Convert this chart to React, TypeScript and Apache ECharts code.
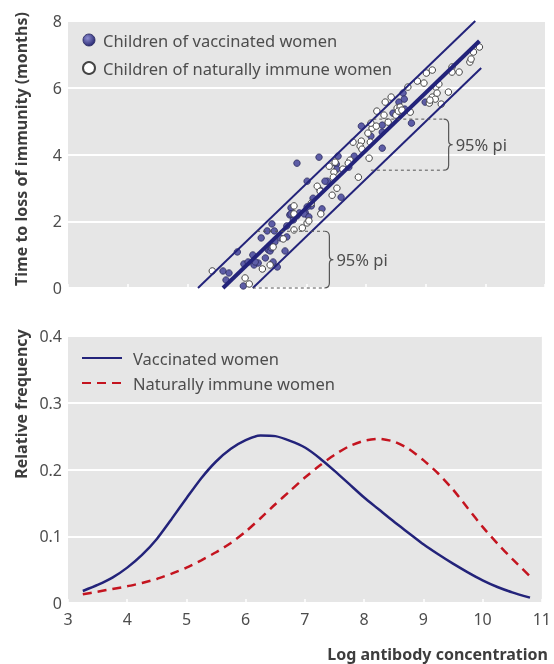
import React, { useEffect, useRef } from "react";
import * as echarts from "echarts";

const FONT = "'Noto Sans', sans-serif";
const TEXT = "#4d4d4d";
const NAVY = "#23237a";
const RED = "#c4141f";

// Top panel: children data (log antibody concentration, months to loss of immunity)
const vaccinatedChildren: [number, number][] = [
  [5.6, 0.51], [5.7, 0.45], [5.65, 0.24], [5.84, 1.08], [5.94, 0.06], [5.95, 0.72],
  [6.02, 0.78], [6.1, 0.99], [6.12, 0.69], [6.19, 0.75], [6.14, 0.78], [6.24, 1.5],
  [6.34, 1.71], [6.42, 1.92], [6.46, 1.71], [6.31, 0.9], [6.36, 1.14], [6.39, 1.11],
  [6.41, 1.2], [6.44, 0.78], [6.51, 0.63], [6.47, 1.38], [6.56, 1.5], [6.67, 1.53],
  [6.64, 1.11], [6.67, 1.86], [6.72, 2.19], [6.74, 2.4], [6.78, 2.04], [6.84, 2.16],
  [6.88, 2.25], [6.98, 2.25], [7.08, 2.46], [7.11, 2.69], [7.26, 2.37], [7.23, 2.93],
  [7.58, 2.72], [7.35, 3.2], [6.84, 3.74], [7.21, 3.92], [7.53, 3.95], [7.5, 3.71],
  [7.51, 3.56], [7.01, 3.2], [7.31, 3.2], [7.01, 2.43], [6.74, 2.22], [6.96, 2.22],
  [7.04, 2.13], [7.8, 3.95], [7.92, 4.85], [8.08, 4.55], [8.27, 4.88], [8.27, 4.67],
  [8.27, 4.19], [7.71, 3.62], [8.45, 5.24], [8.55, 5.57], [8.62, 5.84], [8.64, 5.66],
  [8.65, 5.36], [8.99, 5.57], [8.76, 4.94],
];

const naturalChildren: [number, number][] = [
  [5.42, 0.51], [5.97, 0.3], [6.04, 0.12], [6.26, 0.57], [6.39, 0.69], [6.44, 1.23],
  [6.61, 1.47], [6.79, 2.46], [6.79, 1.74], [6.93, 1.8], [7.01, 1.95], [7.04, 2.01],
  [7.24, 2.22], [7.18, 3.05], [7.43, 2.78], [7.51, 2.99], [7.38, 3.65], [7.48, 3.77],
  [7.46, 3.47], [7.45, 3.32], [7.23, 2.9], [7.08, 2.54], [6.79, 2.22], [7.78, 4.37],
  [7.92, 4.4], [7.9, 4.25], [7.93, 4.16], [8.03, 4.64], [8.07, 4.37], [8.1, 4.79],
  [8.08, 4.94], [8.17, 4.85], [8.05, 3.89], [7.73, 3.83], [7.7, 3.74], [7.61, 3.56],
  [7.87, 3.32], [8.32, 5.57], [8.42, 5.72], [8.3, 5.18], [8.37, 4.97], [8.5, 5.18],
  [8.52, 5.39], [8.18, 5.3], [8.7, 6.02], [8.86, 6.2], [9.01, 6.44], [9.11, 6.53],
  [8.97, 6.14], [8.57, 5.42], [8.54, 5.3], [8.6, 5.33], [8.74, 5.27], [9.06, 5.54],
  [9.11, 5.72], [9.16, 5.66], [9.17, 6.02], [9.22, 6.11], [9.38, 5.87], [9.19, 5.84],
  [9.44, 6.62], [9.44, 6.47], [9.56, 6.47], [9.74, 6.77], [9.76, 6.86], [9.8, 7.07],
  [9.9, 7.22], [9.26, 5.51], [9.07, 5.63],
];

const fitLine: [number, number][] = [[5.6, 0], [9.9, 7.4]];
const upperPI: [number, number][] = [[5.18, 0], [9.83, 8.0]];
const lowerPI: [number, number][] = [[6.1, 0], [9.93, 6.59]];

// [x start top dash, x start bottom dash, x end (brace), y low, y high]
const piBrackets: number[][] = [
  [6.17, 6.1, 7.3, 0, 1.7],
  [8.12, 8.08, 9.3, 3.53, 5.06],
];
const piLabel = "95% pi";

// Bottom panel: relative frequency
const vaccinatedFreq: [number, number][] = [
  [3.25, 0.018], [3.5, 0.027], [3.75, 0.038], [4, 0.053], [4.25, 0.072], [4.5, 0.096],
  [4.75, 0.126], [5, 0.157], [5.25, 0.187], [5.5, 0.212], [5.75, 0.231], [6, 0.244],
  [6.25, 0.251], [6.5, 0.25], [6.75, 0.243], [7, 0.233], [7.25, 0.217], [7.5, 0.198],
  [7.75, 0.178], [8, 0.158], [8.25, 0.14], [8.5, 0.122], [8.75, 0.105], [9, 0.088],
  [9.25, 0.073], [9.5, 0.059], [9.75, 0.046], [10, 0.034], [10.25, 0.024], [10.5, 0.016],
  [10.8, 0.008],
];
const naturalFreq: [number, number][] = [
  [3.25, 0.013], [3.5, 0.017], [3.75, 0.021], [4, 0.025], [4.25, 0.03], [4.5, 0.036],
  [4.75, 0.044], [5, 0.053], [5.25, 0.064], [5.5, 0.076], [5.75, 0.09], [6, 0.107],
  [6.25, 0.127], [6.5, 0.148], [6.75, 0.168], [7, 0.188], [7.25, 0.206], [7.5, 0.222],
  [7.75, 0.235], [8, 0.243], [8.25, 0.246], [8.5, 0.242], [8.75, 0.231], [9, 0.214],
  [9.25, 0.194], [9.5, 0.17], [9.75, 0.142], [10, 0.114], [10.25, 0.089], [10.5, 0.066],
  [10.8, 0.04],
];

const topYTitle = "Time to loss of immunity (months)";
const bottomYTitle = "Relative frequency";
const xTitle = "Log antibody concentration";

export default function App() {
  const ref = useRef<HTMLDivElement>(null);
  useEffect(() => {
    if (!ref.current) return;
    const chart = echarts.init(ref.current, null, { renderer: "svg" });
    const gridBase = { left: 68, width: 477, height: 267, show: true, backgroundColor: "#e6e6e6", borderWidth: 0 };
    const xAxisBase = {
      type: "value", min: 3, max: 11, interval: 1,
      axisLine: { show: false },
      axisTick: { show: true, inside: true, length: 4, lineStyle: { color: "#ffffff", width: 1.5 } },
      splitLine: { show: false },
    };
    const yAxisBase = {
      type: "value",
      axisLine: { show: false },
      axisTick: { show: false },
      splitLine: { show: true, lineStyle: { color: "#ffffff", width: 2 } },
      axisLabel: { color: TEXT, fontSize: 16, fontFamily: FONT, margin: 6 },
    };
    const textStyle = { color: TEXT, fontSize: 16.5, fontFamily: FONT, lineHeight: 20 };
    const titleStyle = { fontSize: 16, fontWeight: "bold", fill: "#3d3d3d", fontFamily: FONT };
    const option: any = {
      animation: false,
      textStyle: { fontFamily: FONT },
      grid: [
        { ...gridBase, top: 21 },
        { ...gridBase, top: 336 },
      ],
      xAxis: [
        { ...xAxisBase, gridIndex: 0, axisLabel: { show: false } },
        { ...xAxisBase, gridIndex: 1, axisLabel: { color: TEXT, fontSize: 16, fontFamily: FONT, margin: 8 } },
      ],
      yAxis: [
        { ...yAxisBase, gridIndex: 0, min: 0, max: 8, interval: 2 },
        { ...yAxisBase, gridIndex: 1, min: 0, max: 0.4, interval: 0.1 },
      ],
      legend: [
        {
          orient: "vertical", left: 77, top: 25, itemWidth: 12, itemHeight: 12, itemGap: 8,
          textStyle: { ...textStyle, padding: [0, 0, 0, 3] },
          data: [
            {
              name: "Children of vaccinated women", icon: "circle",
              itemStyle: {
                color: { type: "radial", x: 0.38, y: 0.35, r: 0.7, colorStops: [{ offset: 0, color: "#8c8cd0" }, { offset: 1, color: "#262670" }] },
                borderColor: "#22225a", borderWidth: 0.8,
              },
            },
            { name: "Children of naturally immune women", icon: "circle" },
          ],
        },
        {
          orient: "vertical", left: 76, top: 343, itemWidth: 40, itemHeight: 14, itemGap: 5,
          textStyle: { ...textStyle, padding: [0, 0, 0, 6] },
          itemStyle: { color: "transparent", borderWidth: 0, opacity: 0 },
          data: ["Vaccinated women", "Naturally immune women"],
        },
      ],
      series: [
        {
          type: "scatter", name: "Children of vaccinated women", xAxisIndex: 0, yAxisIndex: 0,
          data: vaccinatedChildren, symbolSize: 6.5,
          itemStyle: { color: "#5d5da6", borderColor: "#2a2a5c", borderWidth: 0.8, opacity: 1 },
        },
        {
          type: "scatter", name: "Children of naturally immune women", xAxisIndex: 0, yAxisIndex: 0,
          data: naturalChildren, symbolSize: 6.5,
          itemStyle: { color: "#ffffff", borderColor: "#444444", borderWidth: 1, opacity: 1 },
        },
        {
          type: "line", xAxisIndex: 0, yAxisIndex: 0, data: upperPI, symbol: "none", z: 3,
          lineStyle: { color: NAVY, width: 2 }, silent: true,
        },
        {
          type: "line", xAxisIndex: 0, yAxisIndex: 0, data: lowerPI, symbol: "none", z: 3,
          lineStyle: { color: NAVY, width: 2 }, silent: true,
        },
        {
          type: "line", xAxisIndex: 0, yAxisIndex: 0, data: fitLine, symbol: "none", z: 3,
          lineStyle: { color: NAVY, width: 4 }, silent: true,
        },
        {
          type: "custom", xAxisIndex: 0, yAxisIndex: 0, data: piBrackets, z: 4, clip: false,
          encode: { x: [0, 1, 2], y: [3, 4] },
          renderItem: (params: any, api: any) => {
            const xa = api.value(0), xb = api.value(1), xe = api.value(2), yl = api.value(3), yh = api.value(4);
            const pTopStart = api.coord([xa, yh]);
            const pBotStart = api.coord([xb, yl]);
            const pTopEnd = api.coord([xe, yh]);
            const pBotEnd = api.coord([xe, yl]);
            const x0 = pTopEnd[0];
            const top = pTopEnd[1];
            const bot = pBotEnd[1];
            const mid = (top + bot) / 2;
            const d = `M${x0},${top} Q${x0 + 5},${top} ${x0 + 5},${top + 5} L${x0 + 5},${mid - 4} Q${x0 + 5},${mid} ${x0 + 9},${mid} Q${x0 + 5},${mid} ${x0 + 5},${mid + 4} L${x0 + 5},${bot - 5} Q${x0 + 5},${bot} ${x0},${bot}`;
            const dash = { stroke: "#555555", lineWidth: 1, lineDash: [3, 3] };
            return {
              type: "group",
              children: [
                { type: "line", shape: { x1: pTopStart[0], y1: top, x2: x0, y2: top }, style: dash },
                { type: "line", shape: { x1: pBotStart[0], y1: bot, x2: x0, y2: bot }, style: dash },
                { type: "path", shape: { pathData: d }, style: { stroke: "#555555", fill: "none", lineWidth: 1.2 } },
                {
                  type: "text",
                  style: { text: piLabel, x: x0 + 12, y: mid, verticalAlign: "middle", fontSize: 16.5, fill: TEXT, fontFamily: FONT },
                },
              ],
            };
          },
        },
        {
          type: "line", name: "Vaccinated women", xAxisIndex: 1, yAxisIndex: 1, data: vaccinatedFreq,
          symbol: "none", smooth: 0.2, itemStyle: { color: NAVY },
          lineStyle: { color: NAVY, width: 2.5 },
        },
        {
          type: "line", name: "Naturally immune women", xAxisIndex: 1, yAxisIndex: 1, data: naturalFreq,
          symbol: "none", smooth: 0.2, itemStyle: { color: RED },
          lineStyle: { color: RED, width: 2.5, type: [9, 6] },
        },
      ],
      graphic: [
        {
          type: "text", x: 21, y: 149, rotation: Math.PI / 2,
          style: { text: topYTitle, ...titleStyle, align: "center", verticalAlign: "middle" },
        },
        {
          type: "text", x: 21, y: 404, rotation: Math.PI / 2,
          style: { text: bottomYTitle, ...titleStyle, align: "center", verticalAlign: "middle" },
        },
        {
          type: "text", x: 548, y: 654,
          style: { text: xTitle, ...titleStyle, align: "right", verticalAlign: "middle" },
        },
      ],
    };
    chart.setOption(option);
    return () => chart.dispose();
  }, []);
  return <div ref={ref} style={{ position: "fixed", left: 0, top: 0, width: 554, height: 664 }} />;
}
